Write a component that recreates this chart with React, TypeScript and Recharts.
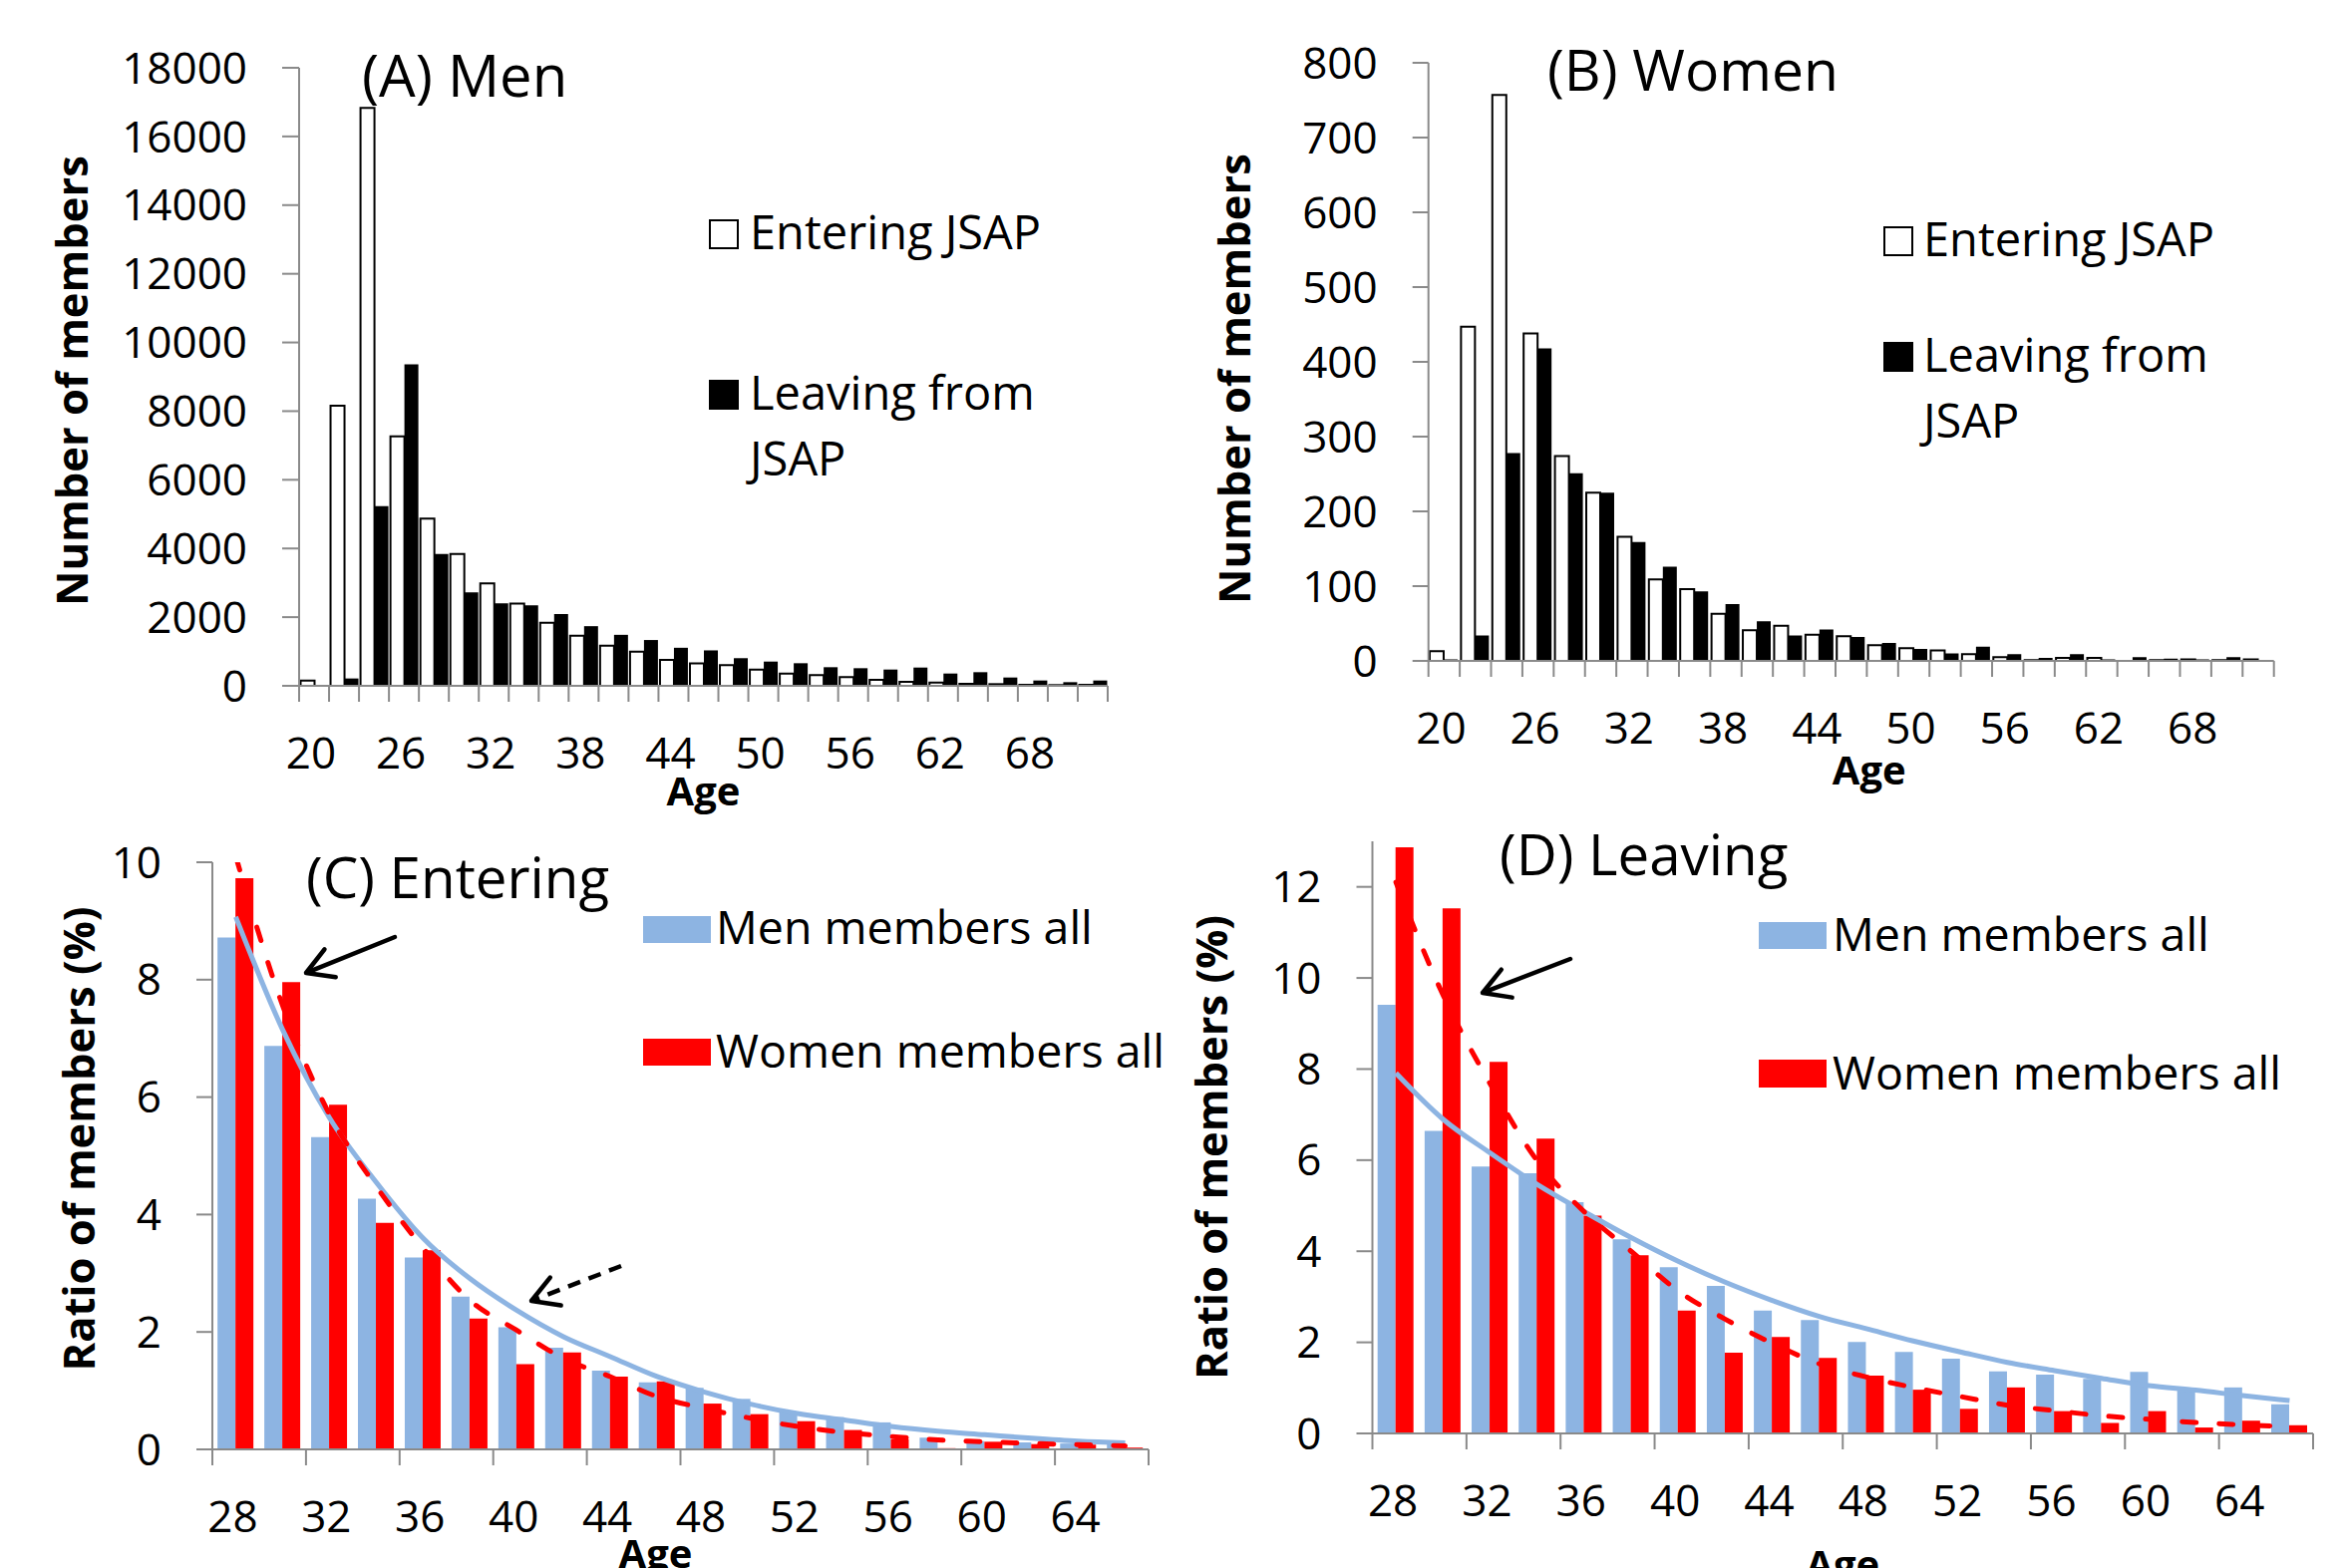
import React from 'react';
import { BarChart, ComposedChart, Bar, Line, XAxis, YAxis } from 'recharts';

// ---------- data ----------
const agesAB = [20, 22, 24, 26, 28, 30, 32, 34, 36, 38, 40, 42, 44, 46, 48, 50, 52, 54, 56, 58, 60, 62, 64, 66, 68, 70, 72];
const menEntering = [151, 8156, 16830, 7263, 4871, 3839, 2983, 2392, 1838, 1460, 1171, 994, 755, 655, 600, 475, 358, 310, 252, 174, 116, 97, 58, 48, 29, 20, 29];
const menLeaving = [0, 214, 5236, 9365, 3839, 2719, 2404, 2341, 2089, 1737, 1485, 1334, 1108, 1032, 805, 706, 658, 542, 513, 474, 532, 358, 397, 242, 155, 106, 155];
const womenEntering = [13, 447, 757, 438, 274, 225, 166, 109, 96, 63, 41, 47, 35, 33, 21, 17, 14, 9, 5, 1, 4, 4, 0, 1, 2, 1, 2];
const womenLeaving = [2, 34, 278, 418, 251, 225, 159, 126, 93, 76, 53, 34, 42, 32, 24, 16, 10, 19, 9, 4, 9, 2, 5, 3, 2, 5, 1];
const yTicksA = [0, 2000, 4000, 6000, 8000, 10000, 12000, 14000, 16000, 18000];
const yTicksB = [0, 100, 200, 300, 400, 500, 600, 700, 800];

const agesCD = [28, 30, 32, 34, 36, 38, 40, 42, 44, 46, 48, 50, 52, 54, 56, 58, 60, 62, 64, 66];
const enterMenAll = [8.72, 6.87, 5.32, 4.27, 3.27, 2.6, 2.08, 1.73, 1.34, 1.14, 1.05, 0.86, 0.64, 0.55, 0.46, 0.2, 0.14, 0.12, 0.1, 0.09];
const enterWomenAll = [9.73, 7.96, 5.87, 3.86, 3.39, 2.23, 1.45, 1.65, 1.24, 1.16, 0.78, 0.6, 0.48, 0.33, 0.17, 0.02, 0.13, 0.09, 0.08, 0.03];
const enterMenTrend = [9.07, 7.15, 5.65, 4.55, 3.6, 2.91, 2.37, 1.92, 1.58, 1.24, 0.98, 0.77, 0.61, 0.5, 0.39, 0.31, 0.25, 0.19, 0.14, 0.11];
const enterWomenTrend = [10.1, 7.56, 5.71, 4.48, 3.43, 2.54, 2.03, 1.55, 1.24, 0.9, 0.7, 0.53, 0.39, 0.29, 0.22, 0.16, 0.13, 0.1, 0.08, 0.06];
const leaveMenAll = [9.41, 6.64, 5.86, 5.71, 5.08, 4.26, 3.65, 3.24, 2.7, 2.49, 2.01, 1.79, 1.64, 1.36, 1.29, 1.2, 1.35, 0.94, 1.01, 0.64];
const leaveWomenAll = [12.87, 11.53, 8.16, 6.47, 4.78, 3.91, 2.7, 1.77, 2.12, 1.66, 1.27, 0.96, 0.54, 1.01, 0.49, 0.23, 0.49, 0.13, 0.28, 0.18];
const leaveMenTrend = [7.91, 6.9, 6.16, 5.47, 4.87, 4.3, 3.78, 3.32, 2.92, 2.57, 2.3, 2.03, 1.79, 1.56, 1.38, 1.21, 1.05, 0.95, 0.83, 0.72];
const leaveWomenTrend = [12.1, 9.63, 7.68, 5.99, 4.87, 4.0, 3.13, 2.51, 1.98, 1.53, 1.24, 1.01, 0.81, 0.62, 0.5, 0.39, 0.31, 0.24, 0.19, 0.15];
const yTicksC = [0, 2, 4, 6, 8, 10];
const yTicksD = [0, 2, 4, 6, 8, 10, 12];

const dataA = agesAB.map((age, i) => ({ age, enter: menEntering[i], leave: menLeaving[i] }));
const dataB = agesAB.map((age, i) => ({ age, enter: womenEntering[i], leave: womenLeaving[i] }));
const dataC = agesCD.map((age, i) => ({ age, men: enterMenAll[i], women: enterWomenAll[i], menT: enterMenTrend[i], womenT: enterWomenTrend[i] }));
const dataD = agesCD.map((age, i) => ({ age, men: leaveMenAll[i], women: leaveWomenAll[i], menT: leaveMenTrend[i], womenT: leaveWomenTrend[i] }));

// ---------- styles ----------
const FONT = "'Open Sans', sans-serif";
const AXIS = '#8a8a8a';
const BLUE = '#8DB4E2';
const RED = '#FF0000';
const TICK_FS = 44;
const AXTITLE_FS = 43.5;

function CatTick(props: any) {
  const { x, y, payload, index, band, n, tickEvery, labelEvery } = props;
  const i = payload && typeof payload.index === 'number' ? payload.index : index;
  const items: any[] = [];
  if (i % tickEvery === 0) {
    items.push(<line key="l" x1={x - band / 2} x2={x - band / 2} y1={y} y2={y + 16} stroke={AXIS} strokeWidth={2} />);
  }
  if (i === n - 1) {
    items.push(<line key="r" x1={x + band / 2} x2={x + band / 2} y1={y} y2={y + 16} stroke={AXIS} strokeWidth={2} />);
  }
  if (i % labelEvery === 0) {
    items.push(
      <text key="t" x={x - 3} y={y + 66} textAnchor="middle" dominantBaseline="central" fontFamily={FONT} fontSize={TICK_FS} fill="#000">
        {payload.value}
      </text>
    );
  }
  return <g>{items}</g>;
}

const yTickStyle = { fontSize: TICK_FS, fill: '#000', fontFamily: FONT };
const axisLineStyle = { stroke: AXIS, strokeWidth: 2 };

function YTitle(props: any) {
  const { viewBox, value, off, dy } = props;
  const vb = viewBox || {};
  const cx = (vb.x || 0) + off;
  const cy = (vb.y || 0) + (vb.height || 0) / 2 + dy;
  return (
    <text
      x={cx}
      y={cy}
      transform={`rotate(-90 ${cx} ${cy})`}
      textAnchor="middle"
      dominantBaseline="central"
      fontFamily={FONT}
      fontWeight={700}
      fontSize={AXTITLE_FS}
      fill="#000"
    >
      {value}
    </text>
  );
}

function yLabel(value: string, off: number, dy: number) {
  return { value, position: 'insideLeft' as const, content: (p: any) => <YTitle {...p} value={value} off={off} dy={dy} /> };
}
function xLabel(offset: number, dx: number) {
  return {
    value: 'Age',
    position: 'insideBottom' as const,
    offset,
    dx,
    style: { fontFamily: FONT, fontWeight: 700, fontSize: 40, fill: '#000' },
  };
}

function Arrow({ x1, y1, x2, y2, dashed }: { x1: number; y1: number; x2: number; y2: number; dashed?: boolean }) {
  const dx = x2 - x1;
  const dy = y2 - y1;
  const len = Math.hypot(dx, dy);
  const ux = dx / len;
  const uy = dy / len;
  const L = 30;
  const a = Math.PI / 6;
  const c1x = -ux * Math.cos(a) + uy * Math.sin(a);
  const c1y = -ux * Math.sin(a) - uy * Math.cos(a);
  const c2x = -ux * Math.cos(a) - uy * Math.sin(a);
  const c2y = ux * Math.sin(a) - uy * Math.cos(a);
  return (
    <g stroke="#000" strokeWidth={4.5} fill="none" strokeLinecap="round" strokeLinejoin="round">
      <line x1={x1} y1={y1} x2={x2 - ux * 3} y2={y2 - uy * 3} strokeDasharray={dashed ? '13 9' : undefined} strokeLinecap={dashed ? 'butt' : 'round'} />
      <polyline points={`${x2 + L * c1x},${y2 + L * c1y} ${x2},${y2} ${x2 + L * c2x},${y2 + L * c2y}`} />
    </g>
  );
}

function Overlay() {
  const t = { fontFamily: FONT, fill: '#000' };
  return (
    <svg width={2354} height={1573} style={{ position: 'absolute', left: 0, top: 0, pointerEvents: 'none' }}>
      {/* titles */}
      <text x={363} y={97} fontSize={58} {...t}>(A) Men</text>
      <text x={1552} y={91} fontSize={57} {...t}>(B) Women</text>
      <text x={307} y={901} fontSize={56.5} {...t}>(C) Entering</text>
      <text x={1504} y={878} fontSize={56.5} {...t}>(D) Leaving</text>

      {/* legend A */}
      <rect x={712} y={221} width={28} height={28} fill="#fff" stroke="#000" strokeWidth={2} />
      <text x={752} y={250} fontSize={47} {...t}>Entering JSAP</text>
      <rect x={711} y={381} width={30} height={30} fill="#000" />
      <text x={752} y={411} fontSize={47} {...t}>Leaving from</text>
      <text x={752} y={477} fontSize={47} {...t}>JSAP</text>

      {/* legend B */}
      <rect x={1890} y={228} width={28} height={28} fill="#fff" stroke="#000" strokeWidth={2} />
      <text x={1929} y={257} fontSize={47} {...t}>Entering JSAP</text>
      <rect x={1889} y={343} width={30} height={30} fill="#000" />
      <text x={1929} y={373} fontSize={47} {...t}>Leaving from</text>
      <text x={1929} y={439} fontSize={47} {...t}>JSAP</text>

      {/* legend C */}
      <rect x={645} y={919} width={68} height={27} fill={BLUE} />
      <text x={718} y={947} fontSize={46.5} {...t}>Men members all</text>
      <rect x={645} y={1042} width={68} height={27} fill={RED} />
      <text x={718} y={1071} fontSize={46.5} {...t}>Women members all</text>

      {/* legend D */}
      <rect x={1764} y={925} width={68} height={27} fill={BLUE} />
      <text x={1838} y={954} fontSize={46.5} {...t}>Men members all</text>
      <rect x={1764} y={1063} width={68} height={28} fill={RED} />
      <text x={1838} y={1093} fontSize={46.5} {...t}>Women members all</text>

      {/* arrows */}
      <Arrow x1={396} y1={940} x2={307} y2={976} />
      <Arrow x1={623} y1={1270} x2={533} y2={1305} dashed />
      <Arrow x1={1575} y1={962} x2={1487} y2={996} />
    </svg>
  );
}

export default function App() {
  const bandA = (1111 - 300) / agesAB.length;
  const bandB = (2280.7 - 1432.7) / agesAB.length;
  const bandC = (1152 - 213) / agesCD.length;
  const bandD = (2320 - 1376.5) / agesCD.length;
  return (
    <div style={{ position: 'absolute', left: 0, top: 0, width: 2354, height: 1573, background: '#fff', overflow: 'hidden' }}>
      {/* Panel A */}
      <div style={{ position: 'absolute', left: 0, top: 0 }}>
        <BarChart width={1130} height={830} data={dataA} margin={{ top: 68, right: 19, left: 0, bottom: 0 }} barCategoryGap="5%" barGap={0}>
          <XAxis
            dataKey="age"
            interval={0}
            height={142}
            tickSize={0}
            tickMargin={0}
            axisLine={axisLineStyle}
            tickLine={false}
            tick={(p: any) => <CatTick {...p} band={bandA} n={agesAB.length} tickEvery={1} labelEvery={3} />}
            label={xLabel(22, 0)}
          />
          <YAxis
            domain={[0, 18000]}
            ticks={yTicksA}
            interval={0}
            width={300}
            tickSize={17}
            tickMargin={35}
            axisLine={axisLineStyle}
            tickLine={axisLineStyle}
            tick={yTickStyle}
            label={yLabel('Number of members', 71, 4)}
          />
          <Bar dataKey="enter" fill="#fff" stroke="#000" strokeWidth={2} isAnimationActive={false} />
          <Bar dataKey="leave" fill="#000" isAnimationActive={false} />
        </BarChart>
      </div>

      {/* Panel B */}
      <div style={{ position: 'absolute', left: 1180, top: 0 }}>
        <BarChart width={1120} height={810} data={dataB} margin={{ top: 63, right: 19.3, left: 0, bottom: 0 }} barCategoryGap="4%" barGap={0}>
          <XAxis
            dataKey="age"
            interval={0}
            height={147}
            tickSize={0}
            tickMargin={0}
            axisLine={axisLineStyle}
            tickLine={false}
            tick={(p: any) => <CatTick {...p} band={bandB} n={agesAB.length} tickEvery={1} labelEvery={3} />}
            label={xLabel(23, 18)}
          />
          <YAxis
            domain={[0, 800]}
            ticks={yTicksB}
            interval={0}
            width={252.7}
            tickSize={16}
            tickMargin={35}
            axisLine={axisLineStyle}
            tickLine={axisLineStyle}
            tick={yTickStyle}
            label={yLabel('Number of members', 57.6, 17)}
          />
          <Bar dataKey="enter" fill="#fff" stroke="#000" strokeWidth={2} isAnimationActive={false} />
          <Bar dataKey="leave" fill="#000" isAnimationActive={false} />
        </BarChart>
      </div>

      {/* Panel C */}
      <div style={{ position: 'absolute', left: 0, top: 830 }}>
        <ComposedChart width={1180} height={743} data={dataC} margin={{ top: 35, right: 28, left: 0, bottom: 0 }} barCategoryGap="11%" barGap={0}>
          <XAxis
            dataKey="age"
            interval={0}
            height={119}
            tickSize={0}
            tickMargin={0}
            axisLine={axisLineStyle}
            tickLine={false}
            tick={(p: any) => <CatTick {...p} band={bandC} n={agesCD.length} tickEvery={2} labelEvery={2} />}
            label={xLabel(0, -25)}
          />
          <YAxis
            domain={[0, 10]}
            allowDataOverflow
            ticks={yTicksC}
            interval={0}
            width={213}
            tickSize={16}
            tickMargin={35}
            axisLine={axisLineStyle}
            tickLine={axisLineStyle}
            tick={yTickStyle}
            label={yLabel('Ratio of members (%)', 78, -17)}
          />
          <Bar dataKey="men" fill={BLUE} isAnimationActive={false} />
          <Bar dataKey="women" fill={RED} isAnimationActive={false} />
          <Line type="monotone" dataKey="menT" stroke={BLUE} strokeWidth={5} dot={false} activeDot={false} isAnimationActive={false} />
          <Line type="monotone" dataKey="womenT" stroke={RED} strokeWidth={5} strokeDasharray="14 23" strokeLinecap="round" dot={false} activeDot={false} isAnimationActive={false} />
        </ComposedChart>
      </div>

      {/* Panel D */}
      <div style={{ position: 'absolute', left: 1180, top: 830 }}>
        <ComposedChart width={1174} height={743} data={dataD} margin={{ top: 14, right: 34, left: 0, bottom: 0 }} barCategoryGap="11%" barGap={0}>
          <XAxis
            dataKey="age"
            interval={0}
            height={135}
            tickSize={0}
            tickMargin={0}
            axisLine={axisLineStyle}
            tickLine={false}
            tick={(p: any) => <CatTick {...p} band={bandD} n={agesCD.length} tickEvery={2} labelEvery={2} />}
            label={xLabel(-11, 0)}
          />
          <YAxis
            domain={[0, 13]}
            allowDataOverflow
            ticks={yTicksD}
            interval={0}
            width={196.5}
            tickSize={16}
            tickMargin={35}
            axisLine={axisLineStyle}
            tickLine={axisLineStyle}
            tick={yTickStyle}
            label={yLabel('Ratio of members (%)', 34, 10)}
          />
          <Bar dataKey="men" fill={BLUE} isAnimationActive={false} />
          <Bar dataKey="women" fill={RED} isAnimationActive={false} />
          <Line type="monotone" dataKey="menT" stroke={BLUE} strokeWidth={5} dot={false} activeDot={false} isAnimationActive={false} />
          <Line type="monotone" dataKey="womenT" stroke={RED} strokeWidth={5} strokeDasharray="14 23" strokeLinecap="round" dot={false} activeDot={false} isAnimationActive={false} />
        </ComposedChart>
      </div>

      <Overlay />
    </div>
  );
}
